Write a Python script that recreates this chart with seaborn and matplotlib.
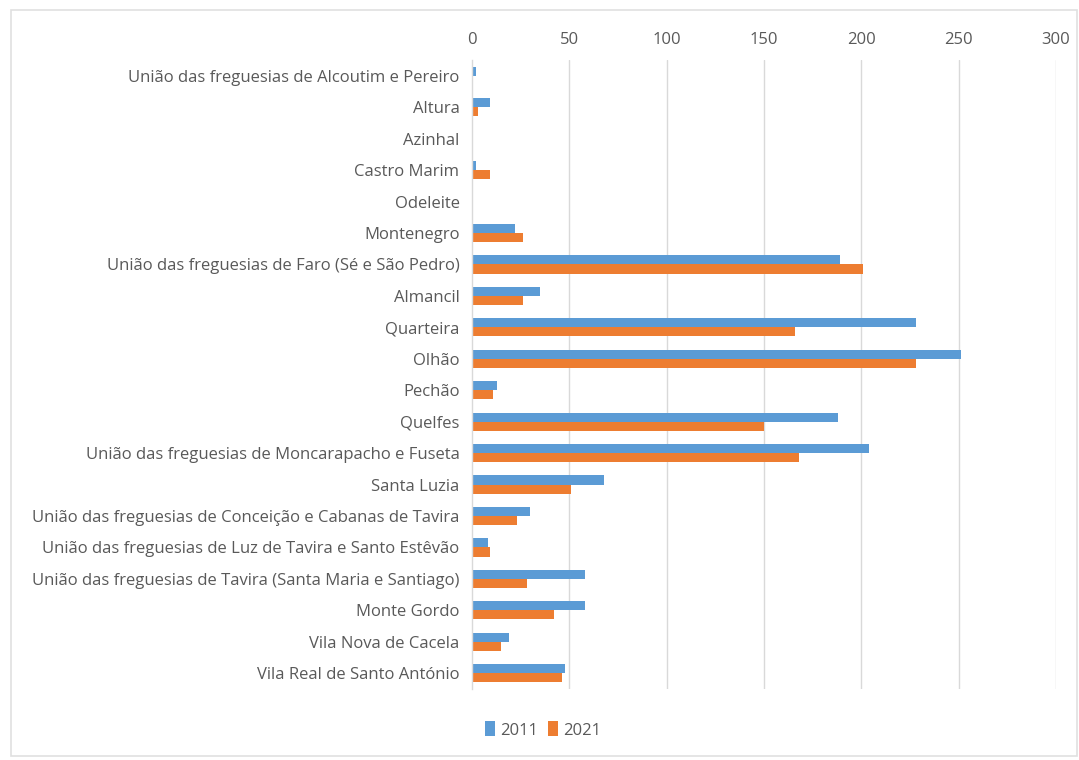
import matplotlib
matplotlib.use("Agg")
import matplotlib.pyplot as plt
import seaborn as sns
import pandas as pd
from matplotlib.patches import Rectangle

categories = [
    "União das freguesias de Alcoutim e Pereiro",
    "Altura",
    "Azinhal",
    "Castro Marim",
    "Odeleite",
    "Montenegro",
    "União das freguesias de Faro (Sé e São Pedro)",
    "Almancil",
    "Quarteira",
    "Olhão",
    "Pechão",
    "Quelfes",
    "União das freguesias de Moncarapacho e Fuseta",
    "Santa Luzia",
    "União das freguesias de Conceição e Cabanas de Tavira",
    "União das freguesias de Luz de Tavira e Santo Estêvão",
    "União das freguesias de Tavira (Santa Maria e Santiago)",
    "Monte Gordo",
    "Vila Nova de Cacela",
    "Vila Real de Santo António",
]
values_2011 = [2, 9, 0, 2, 0, 22, 189, 35, 228, 251, 13, 188, 204, 68, 30, 8, 58, 58, 19, 48]
values_2021 = [0, 3, 0, 9, 0, 26, 201, 26, 166, 228, 11, 150, 168, 51, 23, 9, 28, 42, 15, 46]
series = ["2011", "2021"]
x_ticks = [0, 50, 100, 150, 200, 250, 300]

df = pd.DataFrame({
    "Freguesia": categories * 2,
    "Valor": values_2011 + values_2021,
    "Ano": [series[0]] * len(categories) + [series[1]] * len(categories),
})

sns.set_theme(style="white")
plt.rcParams["font.family"] = ["Open Sans", "DejaVu Sans"]

fig = plt.figure(figsize=(10.79, 7.6), dpi=100)
fig.patches.append(Rectangle((11 / 1079, 1 - 756 / 760), (1077 - 11) / 1079, (756 - 10) / 760,
                             transform=fig.transFigure, fill=False, edgecolor="#e0e0e0", linewidth=1.2))
ax = fig.add_axes([472 / 1079, 1 - 689 / 760, 584 / 1079, 629 / 760])

sns.barplot(data=df, y="Freguesia", x="Valor", hue="Ano", orient="h",
            palette={"2011": "#5b9bd5", "2021": "#ed7d31"}, width=0.58,
            order=categories, hue_order=series, ax=ax, saturation=1, linewidth=0)

ax.set_xlim(0, 300)
ax.set_xticks(x_ticks)
ax.set_xticklabels([str(t) for t in x_ticks])
ax.xaxis.tick_top()
ax.set_ylim(len(categories) - 0.5, -0.5)
ax.set_xlabel("")
ax.set_ylabel("")
ax.tick_params(axis="both", length=0, labelsize=12, colors="#595959")
ax.tick_params(axis="y", pad=9)
ax.tick_params(axis="x", pad=9)
for v in x_ticks[1:]:
    ax.axvline(v, color="#d9d9d9", linewidth=1, zorder=0)
for s in ["top", "right", "bottom"]:
    ax.spines[s].set_visible(False)
ax.spines["left"].set_color("#d9d9d9")
ax.spines["left"].set_linewidth(1)

leg = ax.legend(loc="center", bbox_to_anchor=(543 / 1079, 1 - 730 / 760), bbox_transform=fig.transFigure,
                ncol=2, frameon=False, handlelength=0.6, handleheight=1.0, handletextpad=0.3,
                columnspacing=0.6, fontsize=12)
for t in leg.get_texts():
    t.set_color("#595959")

fig.savefig("out.png", dpi=100)
